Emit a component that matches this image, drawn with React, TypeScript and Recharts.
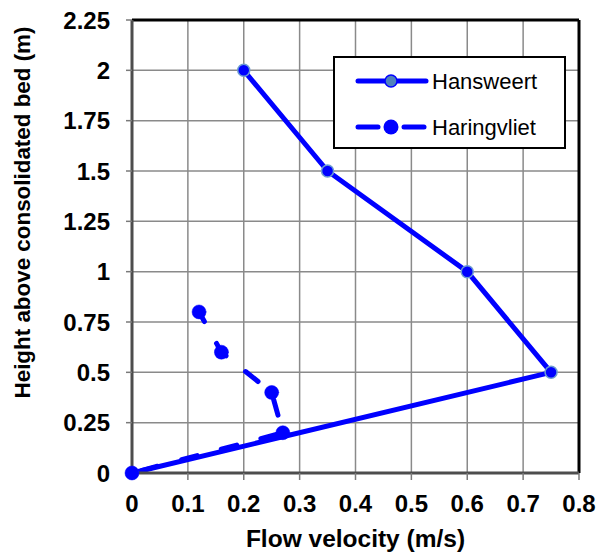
import React from 'react';
import { LineChart, Line, XAxis, YAxis, CartesianGrid, ReferenceLine } from 'recharts';

const hansweertVelocity = [0.2, 0.35, 0.6, 0.75, 0];
const hansweertHeight = [2, 1.5, 1, 0.5, 0];
const haringvlietVelocity = [0.12, 0.16, 0.25, 0.27, 0];
const haringvlietHeight = [0.8, 0.6, 0.4, 0.2, 0];
const xTicks = [0, 0.1, 0.2, 0.3, 0.4, 0.5, 0.6, 0.7, 0.8];
const yTicks = [0, 0.25, 0.5, 0.75, 1, 1.25, 1.5, 1.75, 2, 2.25];
const seriesNames = ['Hansweert', 'Haringvliet'];
const xTitle = 'Flow velocity (m/s)';
const yTitle = 'Height above consolidated bed (m)';

const hansweert = hansweertVelocity.map((x, i) => ({ x, y: hansweertHeight[i] }));
const haringvliet = haringvlietVelocity.map((x, i) => ({ x, y: haringvlietHeight[i] }));

const BLUE = '#0000FF';
const HANS_RING = '#6C9BD2';
const HANS_FILL = '#4F81BD';
const FONT = '"Liberation Sans", Arial, sans-serif';

const tickStyle = { fontSize: 24, fontWeight: 700, fill: '#000', fontFamily: FONT };

const renderXLabel = (props: any) => {
  const vb = props.viewBox || {};
  return (
    <text
      x={vb.x + vb.width / 2}
      y={vb.y + 74}
      textAnchor="middle"
      fontSize={24.5}
      fontWeight={700}
      fontFamily={FONT}
      fill="#000"
    >
      {xTitle}
    </text>
  );
};

const renderYLabel = (props: any) => {
  const vb = props.viewBox || {};
  const cx = vb.x + 22;
  const cy = vb.y + vb.height / 2 - 34;
  return (
    <text
      x={cx}
      y={cy}
      transform={`rotate(-90, ${cx}, ${cy})`}
      textAnchor="middle"
      dominantBaseline="central"
      fontSize={22.4}
      fontWeight={700}
      fontFamily={FONT}
      fill="#000"
    >
      {yTitle}
    </text>
  );
};

const LegendBox = () => (
  <svg
    width={234}
    height={94}
    style={{ position: 'absolute', left: 333, top: 56 }}
  >
    <rect x={1} y={1} width={231} height={91} fill="#fff" stroke="#000" strokeWidth={2} />
    <line x1={25} y1={25} x2={93} y2={25} stroke={BLUE} strokeWidth={5} strokeLinecap="round" />
    <circle cx={58} cy={25} r={6} fill={HANS_FILL} stroke={BLUE} strokeWidth={1.5} />
    <text x={99} y={25} dominantBaseline="central" fontSize={22} fontFamily={FONT} fill="#000">
      {seriesNames[0]}
    </text>
    <line x1={25} y1={71} x2={45} y2={71} stroke={BLUE} strokeWidth={5} strokeLinecap="round" />
    <line x1={71} y1={71} x2={91} y2={71} stroke={BLUE} strokeWidth={5} strokeLinecap="round" />
    <circle cx={58} cy={71} r={7.5} fill={BLUE} />
    <text x={99} y={71} dominantBaseline="central" fontSize={22} fontFamily={FONT} fill="#000">
      {seriesNames[1]}
    </text>
  </svg>
);

export default function App() {
  return (
    <div style={{ position: 'absolute', left: 0, top: 0, width: 600, height: 556, background: '#fff' }}>
      <LineChart width={600} height={556} margin={{ top: 20, right: 21, left: 0, bottom: 0 }}>
        <CartesianGrid stroke="#8a8a8a" strokeWidth={1.5} />
        <XAxis
          dataKey="x"
          type="number"
          domain={[0, 0.8]}
          ticks={xTicks}
          interval={0}
          height={83}
          tick={tickStyle}
          tickSize={7}
          tickMargin={15}
          axisLine={{ stroke: '#4d4d4d', strokeWidth: 3 }}
          tickLine={{ stroke: '#7a7a7a', strokeWidth: 1.5 }}
          label={renderXLabel}
          allowDuplicatedCategory={false}
        />
        <YAxis
          dataKey="y"
          type="number"
          domain={[0, 2.25]}
          ticks={yTicks}
          interval={0}
          width={132}
          tick={tickStyle}
          tickSize={6}
          tickMargin={16}
          axisLine={{ stroke: '#4d4d4d', strokeWidth: 3 }}
          tickLine={{ stroke: '#7a7a7a', strokeWidth: 1.5 }}
          label={renderYLabel}
        />
        <ReferenceLine y={2.25} stroke="#000" strokeWidth={3} />
        <ReferenceLine x={0.8} stroke="#000" strokeWidth={3} />
        <Line
          data={hansweert}
          dataKey="y"
          name={seriesNames[0]}
          stroke={BLUE}
          strokeWidth={5}
          dot={{ r: 6, fill: BLUE, stroke: HANS_RING, strokeWidth: 1.5 }}
          isAnimationActive={false}
        />
        <Line
          data={haringvliet}
          dataKey="y"
          name={seriesNames[1]}
          stroke={BLUE}
          strokeWidth={5}
          strokeLinecap="round"
          strokeDasharray="16 25"
          strokeDashoffset={5}
          dot={{ r: 7, fill: BLUE, stroke: BLUE, strokeWidth: 0.5, strokeDasharray: '' }}
          isAnimationActive={false}
        />
      </LineChart>
      <LegendBox />
    </div>
  );
}
